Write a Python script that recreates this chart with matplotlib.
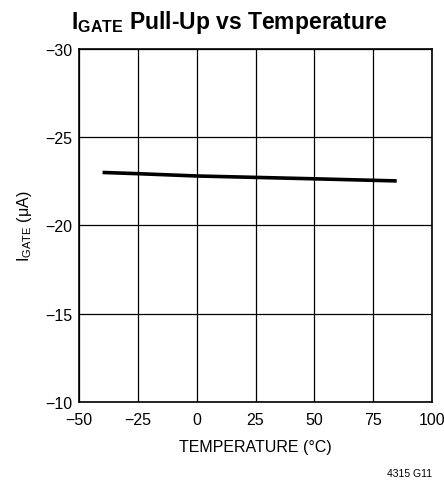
import matplotlib
matplotlib.use('Agg')
import matplotlib.pyplot as plt

# data
temperatura = [-40, -25, 0, 25, 50, 85]
i_gate = [-23.0, -22.93, -22.8, -22.72, -22.64, -22.52]

x_ticks = [-50, -25, 0, 25, 50, 75, 100]
y_ticks = [-30, -25, -20, -15, -10]

fonte = ['Liberation Sans', 'DejaVu Sans']
plt.rcParams['font.family'] = fonte
plt.rcParams['mathtext.fontset'] = 'custom'
plt.rcParams['mathtext.rm'] = 'Liberation Sans'
plt.rcParams['mathtext.bf'] = 'Liberation Sans:bold'

fig = plt.figure(figsize=(4.44, 4.89), dpi=100)
ax = fig.add_axes([0.178, 0.176, 0.795, 0.722])

ax.plot(temperatura, i_gate, color='black', linewidth=2.6, solid_capstyle='butt')

ax.set_xlim(-50, 100)
ax.set_ylim(-10, -30)
ax.set_xticks(x_ticks)
ax.set_yticks(y_ticks)
ax.set_xticklabels([str(t).replace('-', '\u2212') for t in x_ticks])
ax.set_yticklabels([str(t).replace('-', '\u2212') for t in y_ticks])
ax.grid(True, color='black', linewidth=0.9)
ax.tick_params(length=0, labelsize=11.5)
ax.tick_params(axis='x', pad=7)
ax.tick_params(axis='y', pad=5)
for s in ax.spines.values():
    s.set_linewidth(1.2)

ax.set_xlabel('TEMPERATURE (\u00b0C)', fontsize=11.5, labelpad=9)
ax.set_ylabel('I$_{\\mathrm{GATE}}$ (\u03bcA)', fontsize=11.5, labelpad=8)

fig.text(0.515, 0.955, 'I$_{\\mathbf{GATE}}$ Pull-Up vs Temperature',
         fontsize=16.5, fontweight='bold', ha='center', va='center')
fig.text(0.973, 0.03, '4315 G11', fontsize=7.5, ha='right', va='center')

fig.savefig('out.png', dpi=100)
